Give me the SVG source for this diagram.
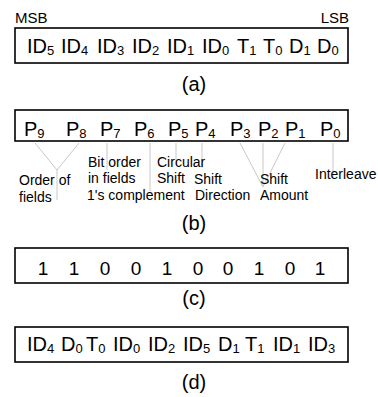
<svg xmlns="http://www.w3.org/2000/svg" width="378" height="397" viewBox="0 0 378 397">
  <style>
    text { font-family: "Liberation Sans", Arial, sans-serif; fill: #000; }
    .box { fill: #fff; stroke: #000; stroke-width: 1.6; }
    .bit { font-size: 20px; }
    .sub { font-size: 13px; }
    .lbl { font-size: 14px; }
    .end { font-size: 15px; }
    .cap { font-size: 20px; text-anchor: middle; }
    .dig { font-size: 19px; text-anchor: middle; }
    .lead { stroke: #c8c8c8; stroke-width: 1; fill: none; }
  </style>
  <rect width="378" height="397" fill="#fff"/>

  <!-- (a) original bit layout -->
  <g id="word-a">
    <text class="end" x="15" y="23">MSB</text>
    <text class="end" x="349" y="23" text-anchor="end">LSB</text>
    <rect class="box" x="15" y="28" width="333" height="35"/>
    <text class="bit" y="53">
      <tspan x="27">ID</tspan><tspan class="sub" dy="2">5</tspan>
      <tspan x="61" dy="-2">ID</tspan><tspan class="sub" dy="2">4</tspan>
      <tspan x="97" dy="-2">ID</tspan><tspan class="sub" dy="2">3</tspan>
      <tspan x="132" dy="-2">ID</tspan><tspan class="sub" dy="2">2</tspan>
      <tspan x="167" dy="-2">ID</tspan><tspan class="sub" dy="2">1</tspan>
      <tspan x="202" dy="-2">ID</tspan><tspan class="sub" dy="2">0</tspan>
      <tspan x="237" dy="-2">T</tspan><tspan class="sub" dy="2">1</tspan>
      <tspan x="263" dy="-2">T</tspan><tspan class="sub" dy="2">0</tspan>
      <tspan x="289" dy="-2">D</tspan><tspan class="sub" dy="2">1</tspan>
      <tspan x="317" dy="-2">D</tspan><tspan class="sub" dy="2">0</tspan>
    </text>
    <text class="cap" x="194" y="91">(a)</text>
  </g>

  <!-- (b) parameter bits -->
  <g id="word-b">
    <rect class="box" x="15" y="110" width="333" height="31"/>
    <text class="bit" y="136">
      <tspan x="24">P</tspan><tspan class="sub" dy="2">9</tspan>
      <tspan x="66" dy="-2">P</tspan><tspan class="sub" dy="2">8</tspan>
      <tspan x="100" dy="-2">P</tspan><tspan class="sub" dy="2">7</tspan>
      <tspan x="134" dy="-2">P</tspan><tspan class="sub" dy="2">6</tspan>
      <tspan x="168" dy="-2">P</tspan><tspan class="sub" dy="2">5</tspan>
      <tspan x="195" dy="-2">P</tspan><tspan class="sub" dy="2">4</tspan>
      <tspan x="230" dy="-2">P</tspan><tspan class="sub" dy="2">3</tspan>
      <tspan x="258" dy="-2">P</tspan><tspan class="sub" dy="2">2</tspan>
      <tspan x="285" dy="-2">P</tspan><tspan class="sub" dy="2">1</tspan>
      <tspan x="320" dy="-2">P</tspan><tspan class="sub" dy="2">0</tspan>
    </text>
  </g>

  <!-- leader lines from parameter bits to their meanings -->
  <g id="connectors">
    <path class="lead" d="M35 143 L57 170 L79 143 M57 170 V200"/>
    <path class="lead" d="M107 143 V170"/>
    <path class="lead" d="M150 143 V191"/>
    <path class="lead" d="M176 143 V165"/>
    <path class="lead" d="M202 143 V168"/>
    <path class="lead" d="M240 143 L263 187 L285 143 M263 143 V187"/>
    <path class="lead" d="M333 143 V177"/>
  </g>

  <g id="label-order">
    <text class="lbl" x="19" y="185">Order of</text>
    <text class="lbl" x="19" y="202">fields</text>
  </g>
  <g id="label-bitorder">
    <text class="lbl" x="88" y="167">Bit order</text>
    <text class="lbl" x="88" y="183">in fields</text>
  </g>
  <g id="label-complement">
    <text class="lbl" x="87" y="200">1's complement</text>
  </g>
  <g id="label-circular">
    <text class="lbl" x="157" y="167">Circular</text>
    <text class="lbl" x="157" y="183">Shift</text>
  </g>
  <g id="label-direction">
    <text class="lbl" x="194" y="184">Shift</text>
    <text class="lbl" x="195" y="200">Direction</text>
  </g>
  <g id="label-amount">
    <text class="lbl" x="260" y="184">Shift</text>
    <text class="lbl" x="260" y="200">Amount</text>
  </g>
  <g id="label-interleave">
    <text class="lbl" x="315" y="179">Interleave</text>
  </g>
  <text class="cap" x="194" y="230">(b)</text>

  <!-- (c) example parameter value -->
  <g id="word-c">
    <rect class="box" x="15" y="248" width="333" height="35"/>
    <text class="dig" y="275">
      <tspan x="43">1</tspan><tspan x="74">1</tspan><tspan x="105">0</tspan><tspan x="136">0</tspan><tspan x="167">1</tspan><tspan x="198">0</tspan><tspan x="228">0</tspan><tspan x="259">1</tspan><tspan x="290">0</tspan><tspan x="320">1</tspan>
    </text>
    <text class="cap" x="194" y="305">(c)</text>
  </g>

  <!-- (d) scrambled layout -->
  <g id="word-d">
    <rect class="box" x="15" y="327" width="333" height="35"/>
    <text class="bit" y="351">
      <tspan x="27">ID</tspan><tspan class="sub" dy="2">4</tspan>
      <tspan x="61" dy="-2">D</tspan><tspan class="sub" dy="2">0</tspan>
      <tspan x="86" dy="-2">T</tspan><tspan class="sub" dy="2">0</tspan>
      <tspan x="113" dy="-2">ID</tspan><tspan class="sub" dy="2">0</tspan>
      <tspan x="148" dy="-2">ID</tspan><tspan class="sub" dy="2">2</tspan>
      <tspan x="183" dy="-2">ID</tspan><tspan class="sub" dy="2">5</tspan>
      <tspan x="218" dy="-2">D</tspan><tspan class="sub" dy="2">1</tspan>
      <tspan x="245" dy="-2">T</tspan><tspan class="sub" dy="2">1</tspan>
      <tspan x="273" dy="-2">ID</tspan><tspan class="sub" dy="2">1</tspan>
      <tspan x="308" dy="-2">ID</tspan><tspan class="sub" dy="2">3</tspan>
    </text>
    <text class="cap" x="194" y="389">(d)</text>
  </g>
</svg>
